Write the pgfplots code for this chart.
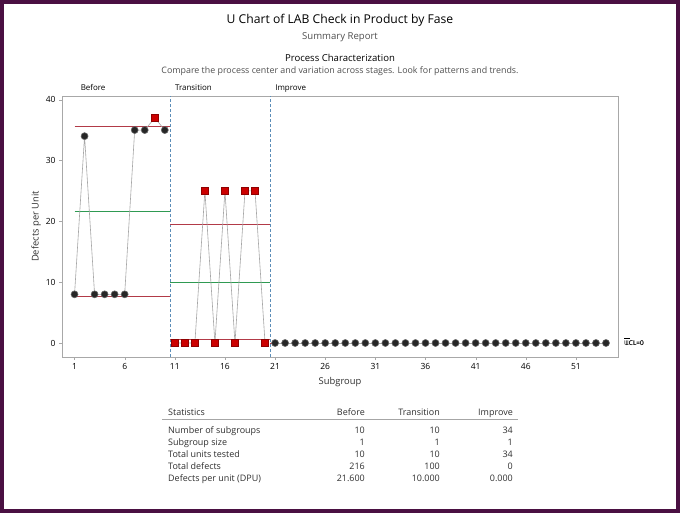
\documentclass[border=0pt]{standalone}
\usepackage{fontspec}
\setmainfont{Open Sans}
\usepackage{pgfplots}
\pgfplotsset{compat=1.18}
\definecolor{framec}{HTML}{4A1042}
\definecolor{boxgray}{HTML}{A8A8A8}
\definecolor{ucl}{HTML}{B23A48}
\definecolor{cl}{HTML}{2F9A52}
\definecolor{ptred}{HTML}{CC0000}
\definecolor{subgray}{HTML}{505050}
\definecolor{phase}{HTML}{5B8DB8}
\definecolor{txt}{HTML}{303030}
\begin{document}
\begin{tikzpicture}[x=1bp,y=1bp]
\useasboundingbox (0,0) rectangle (680,-515);
\fill[white] (0,0) rectangle (680,-515);
\draw[framec, line width=4bp] (2,-2) rectangle (677.5,-511);

% titles
\node[font=\fontsize{12.2}{14}\selectfont, text=black] at (340,-20) {U Chart of LAB Check in Product by Fase};
\node[font=\fontsize{9.6}{11}\selectfont, text=subgray] at (340,-37) {Summary Report};
\node[font=\fontsize{9.6}{11}\selectfont, text=black] at (340,-58) {Process Characterization};
\node[font=\fontsize{8.9}{10}\selectfont, text=subgray] at (340,-71) {Compare the process center and variation across stages. Look for patterns and trends.};

\coordinate (orig) at (62,-357);
\begin{axis}[
  at={(orig)}, anchor=south west,
  scale only axis, width=556bp, height=261bp,
  xmin=-0.25, xmax=55.2, ymin=-2.3, ymax=40.6,
  axis line style={boxgray},
  tick align=outside, xtick pos=bottom, ytick pos=left,
  major tick length=3bp,
  tick style={boxgray},
  xtick={1,6,...,51}, ytick={0,10,20,30,40},
  ticklabel style={font=\fontsize{8.5}{10}\selectfont, text=black},
  /pgf/number format/assume math mode=true,
  clip=false,
  xlabel={Subgroup}, ylabel={Defects per Unit},
  label style={font=\fontsize{9.4}{11}\selectfont, text=txt},
  xlabel style={yshift=-1bp},
  ylabel style={yshift=-2bp},
]
% phase separators
\addplot[phase, line width=1bp, dash pattern=on 3bp off 2bp] coordinates {(10.55,-2.3) (10.55,40.6)};
\addplot[phase, line width=1bp, dash pattern=on 3bp off 2bp] coordinates {(20.5,-2.3) (20.5,40.6)};
% control limits
\addplot[ucl, line width=1bp] coordinates {(1,35.54) (10.55,35.54)};
\addplot[ucl, line width=1bp] coordinates {(1,7.66) (10.55,7.66)};
\addplot[cl, line width=1.2bp] coordinates {(1,21.6) (10.55,21.6)};
\addplot[ucl, line width=1bp] coordinates {(10.55,19.49) (20.5,19.49)};
\addplot[ucl, line width=1bp] coordinates {(10.55,0.51) (20.5,0.51)};
\addplot[cl, line width=1.2bp] coordinates {(10.55,10) (20.5,10)};
\addplot[ucl, line width=1bp] coordinates {(20.5,0) (54,0)};
% connecting lines
\addplot[gray!70, line width=0.6bp, mark=none] coordinates {
(1,8) (2,34) (3,8) (4,8) (5,8) (6,8) (7,35) (8,35) (9,37) (10,35)};
\addplot[gray!70, line width=0.6bp, mark=none] coordinates {
(11,0) (12,0) (13,0) (14,25) (15,0) (16,25) (17,0) (18,25) (19,25) (20,0)};
\addplot[gray!70, line width=0.6bp, mark=none] coordinates {
(21,0) (54,0)};
% in-control points
\addplot[only marks, mark=*, mark size=3.5bp, mark options={fill=black!85, draw=black!60, line width=0.6bp}] coordinates {
(1,8) (2,34) (3,8) (4,8) (5,8) (6,8) (7,35) (8,35) (10,35)
(21,0) (22,0) (23,0) (24,0) (25,0) (26,0) (27,0) (28,0) (29,0) (30,0)
(31,0) (32,0) (33,0) (34,0) (35,0) (36,0) (37,0) (38,0) (39,0) (40,0)
(41,0) (42,0) (43,0) (44,0) (45,0) (46,0) (47,0) (48,0) (49,0) (50,0)
(51,0) (52,0) (53,0) (54,0)};
% out-of-control points
\addplot[only marks, mark=square*, mark size=3.4bp, mark options={fill=ptred, draw=ptred!70!black, line width=0.4bp}] coordinates {
(9,37) (11,0) (12,0) (13,0) (14,25) (15,0) (16,25) (17,0) (18,25) (19,25) (20,0)};
% phase labels
\node[font=\fontsize{8}{9}\selectfont, anchor=base west, text=black, inner sep=0pt] at (axis cs:1.6,41.5) {Before};
\node[font=\fontsize{8}{9}\selectfont, anchor=base west, text=black, inner sep=0pt] at (axis cs:11.0,41.5) {Transition};
\node[font=\fontsize{8}{9}\selectfont, anchor=base west, text=black, inner sep=0pt] at (axis cs:21.0,41.5) {Improve};
% limit labels of last stage (overlapping)
\node[font=\fontsize{6.5}{7}\selectfont, anchor=west, text=black, inner sep=0pt] at (axis cs:55.8,0) {UCL=0};
\node[font=\fontsize{6.5}{7}\selectfont, anchor=west, text=black, inner sep=0pt] at (axis cs:55.95,0) {LCL=0};
\node[font=\fontsize{6.5}{7}\selectfont, anchor=west, text=black, inner sep=0pt] at (axis cs:55.8,0.4) {$\overline{\phantom{U}}$};
\end{axis}

% statistics table
\draw[gray!70, line width=0.6bp] (162,-419.5) -- (518,-419.5);
\node[anchor=base west, inner sep=0pt, font=\fontsize{9}{12}\selectfont, text=txt] at (168,-415) {Statistics};
\node[anchor=base east, inner sep=0pt, font=\fontsize{9}{12}\selectfont, text=txt] at (365,-415) {Before};
\node[anchor=base east, inner sep=0pt, font=\fontsize{9}{12}\selectfont, text=txt] at (440,-415) {Transition};
\node[anchor=base east, inner sep=0pt, font=\fontsize{9}{12}\selectfont, text=txt] at (513,-415) {Improve};
\node[anchor=north west, inner sep=0pt, font=\fontsize{9}{12}\selectfont, text=txt] at (168,-425) {\begin{tabular}{@{}l@{}}Number of subgroups\\Subgroup size\\Total units tested\\Total defects\\Defects per unit (DPU)\end{tabular}};
\node[anchor=north east, inner sep=0pt, font=\fontsize{9}{12}\selectfont, text=txt] at (365,-425) {\begin{tabular}{@{}r@{}}10\\1\\10\\216\\21.600\end{tabular}};
\node[anchor=north east, inner sep=0pt, font=\fontsize{9}{12}\selectfont, text=txt] at (440,-425) {\begin{tabular}{@{}r@{}}10\\1\\10\\100\\10.000\end{tabular}};
\node[anchor=north east, inner sep=0pt, font=\fontsize{9}{12}\selectfont, text=txt] at (513,-425) {\begin{tabular}{@{}r@{}}34\\1\\34\\0\\0.000\end{tabular}};
\end{tikzpicture}
\end{document}
